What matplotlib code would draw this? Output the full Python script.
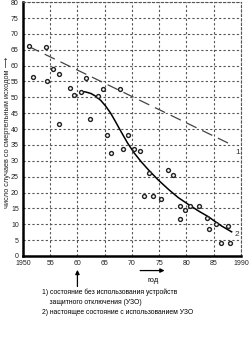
import matplotlib.pyplot as plt
import numpy as np

plt.rcParams['font.family'] = ['Liberation Sans', 'DejaVu Sans']

# измеренные точки (год, число случаев)
years = [1951.1, 1951.9, 1954.3, 1954.4, 1955.6, 1956.7, 1956.7, 1958.7, 1959.4,
         1960.6, 1961.6, 1962.3, 1963.8, 1964.7, 1965.4, 1966.1, 1967.8, 1968.3,
         1969.3, 1970.4, 1971.5, 1972.2, 1973.1, 1973.9, 1975.4, 1976.7, 1977.6,
         1978.9, 1978.9, 1979.8, 1980.7, 1982.4, 1983.7, 1984.1, 1985.4, 1986.3,
         1987.6, 1988.0]
cases = [66.2, 56.5, 66.0, 55.0, 59.0, 57.4, 41.6, 53.0, 50.8,
         51.8, 56.2, 43.2, 50.5, 52.7, 38.2, 32.5, 52.7, 33.8,
         38.2, 33.8, 33.0, 19.0, 26.0, 19.0, 18.0, 27.0, 25.5,
         15.7, 11.6, 14.5, 15.7, 15.7, 12.0, 8.5, 10.0, 4.0,
         9.5, 4.0]

# кривая 1 - без УЗО
trend1_x = [1951.1, 1988.6]
trend1_y = [66.0, 34.8]

# кривая 2 - с УЗО
trend2_x = [1960.6, 1961.5, 1962.5, 1963.4, 1964.3, 1965.2, 1966.1, 1967.0,
            1968.0, 1969.2, 1970.4, 1971.7, 1973.0, 1974.8, 1976.7, 1978.5,
            1980.4, 1982.2, 1984.1, 1985.3, 1986.5, 1987.4, 1988.3]
trend2_y = [51.8, 51.7, 51.2, 50.3, 49.0, 47.2, 45.0, 42.3,
            39.2, 35.6, 32.5, 29.7, 27.2, 24.0, 21.0, 18.4,
            16.2, 14.2, 12.3, 10.8, 9.4, 8.5, 7.6]

xticks = [1950, 1955, 1960, 1965, 1970, 1975, 1980, 1985, 1990]
xlabels = ['1950', '55', '60', '65', '70', '75', '80', '85', '1990']
yticks = list(range(0, 85, 5))

fig = plt.figure(figsize=(2.52, 3.59), dpi=100)
ax = fig.add_axes([0.091, 0.287, 0.865, 0.707])

ax.set_xlim(1950, 1990)
ax.set_ylim(0, 80)
ax.set_xticks(xticks)
ax.set_xticklabels(xlabels)
ax.set_yticks(yticks)
ax.tick_params(labelsize=5, length=0, pad=3, colors='#222222')

ax.grid(True, linestyle=(0, (2, 2)), color='#555555', linewidth=0.8)
for s in ['top', 'right']:
    ax.spines[s].set_linestyle((0, (2, 2)))
    ax.spines[s].set_color('#555555')
    ax.spines[s].set_linewidth(0.8)
for s in ['left', 'bottom']:
    ax.spines[s].set_linewidth(1.8)
    ax.spines[s].set_color('black')

ax.plot(trend1_x, trend1_y, color='#444444', linewidth=0.9, linestyle=(0, (9, 5)))
ax.plot(trend2_x, trend2_y, color='black', linewidth=1.1)
ax.plot(years, cases, 'o', markersize=2.8, markerfacecolor='white',
        markeredgecolor='#222222', markeredgewidth=1.0)

ax.text(1989.0, 32.5, '1', fontsize=6, ha='left', va='center', color='#333333')
ax.text(1988.9, 6.8, '2', fontsize=6, ha='left', va='center', color='#333333')

fig.text(0.028, 0.63, 'число случаев со смертельным исходом \u27f6', rotation=90,
         fontsize=5.3, ha='center', va='center', color='#222222')

# стрелка под 1960
ax.annotate('', xy=(1960, -3.5), xytext=(1960, -10.5), xycoords='data',
            arrowprops=dict(arrowstyle='-|>', color='black', lw=0.9,
                            mutation_scale=6), annotation_clip=False)
ax.annotate('', xy=(1976.5, -4.6), xytext=(1971, -4.6),
            arrowprops=dict(arrowstyle='-|>', color='black', lw=0.9,
                            mutation_scale=6), annotation_clip=False)
ax.text(1973.8, -7.6, 'год', fontsize=5.5, ha='center', va='center')

notes = ('1) состояние без использования устройств\n'
         '    защитного отключения (УЗО)\n'
         '2) настоящее состояние с использованием УЗО')
fig.text(0.165, 0.197, notes, fontsize=4.9, ha='left', va='top', linespacing=1.65)

fig.savefig('out.png', dpi=100)
